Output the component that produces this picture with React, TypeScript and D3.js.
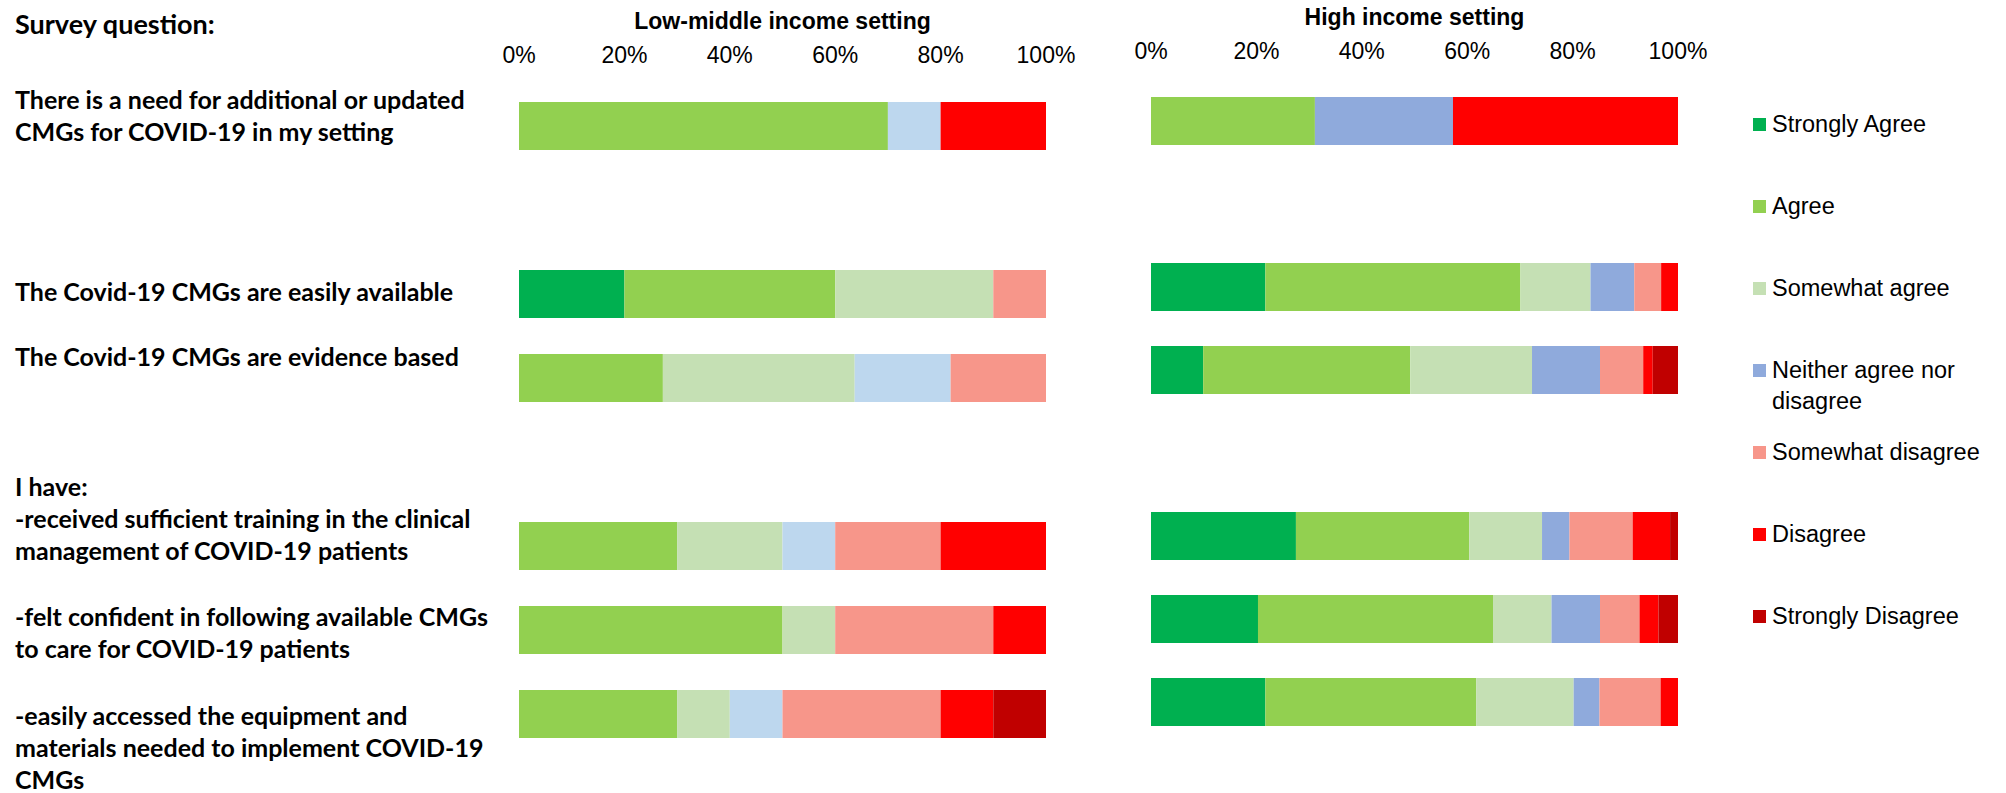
import React from 'react';
import * as d3 from 'd3';

// Likert categories, in stacking order
const categories = [
  'Strongly Agree',
  'Agree',
  'Somewhat agree',
  'Neither agree nor disagree',
  'Somewhat disagree',
  'Disagree',
  'Strongly Disagree',
];

// y slots (gaps are empty rows in the original sheet)
const slots = ['need', 'gap1', 'available', 'evidence', 'gap2', 'training', 'confident', 'equipment'];
const questions = ['need', 'available', 'evidence', 'training', 'confident', 'equipment'];

const questionLabels: Record<string, string[]> = {
  need: ['There is a need for additional or updated', 'CMGs for COVID-19 in my setting'],
  available: ['The Covid-19 CMGs are easily available'],
  evidence: ['The Covid-19 CMGs are evidence based'],
  training: ['I have:', '-received sufficient training in the clinical', 'management of COVID-19 patients'],
  confident: ['-felt confident in following available CMGs', 'to care for COVID-19 patients'],
  equipment: ['-easily accessed the equipment and', 'materials needed to implement COVID-19', 'CMGs'],
};
// first baseline relative to bar top
const labelOffsets: Record<string, number> = {
  need: 7, available: 31, evidence: 12, training: -26, confident: 20, equipment: 35,
};

// percentages per question, same order as categories
const lmicNeed = [0, 70, 0, 10, 0, 20, 0];
const lmicAvailable = [20, 40, 30, 0, 10, 0, 0];
const lmicEvidence = [0, 27.3, 36.4, 18.2, 18.1, 0, 0];
const lmicTraining = [0, 30, 20, 10, 20, 20, 0];
const lmicConfident = [0, 50, 10, 0, 30, 10, 0];
const lmicEquipment = [0, 30, 10, 10, 30, 10, 10];

const hicNeed = [0, 31.1, 0, 26.2, 0, 42.7, 0];
const hicAvailable = [21.7, 48.4, 13.3, 8.3, 5.1, 3.2, 0];
const hicEvidence = [9.9, 39.3, 23.1, 12.9, 8.2, 1.8, 4.8];
const hicTraining = [27.5, 32.9, 13.8, 5.2, 12.0, 7.1, 1.5];
const hicConfident = [20.3, 44.6, 11.1, 9.2, 7.5, 3.6, 3.7];
const hicEquipment = [21.7, 40.0, 18.5, 4.9, 11.6, 3.3, 0];

const ticks = [0, 20, 40, 60, 80, 100];

const colors = ['#00B050', '#92D050', '#C5E0B4', '#8FAADC', '#F7968A', '#FF0000', '#C00000'];
const lmicColors = ['#00B050', '#92D050', '#C5E0B4', '#BDD7EE', '#F7968A', '#FF0000', '#C00000'];

const W = 2006;
const H = 793;
const labelFont = 'Lato, "Liberation Sans", sans-serif';
const axisFont = '"Liberation Sans", Arial, sans-serif';

type Row = { q: string; [k: string]: number | string };

function buildRows(series: number[][]): Row[] {
  return questions.map((q, i) => {
    const r: Row = { q };
    categories.forEach((c, j) => (r[c] = series[i][j]));
    return r;
  });
}

const lmicRows = buildRows([lmicNeed, lmicAvailable, lmicEvidence, lmicTraining, lmicConfident, lmicEquipment]);
const hicRows = buildRows([hicNeed, hicAvailable, hicEvidence, hicTraining, hicConfident, hicEquipment]);

interface PanelProps {
  title: string;
  rows: Row[];
  palette: string[];
  x0: number;
  x1: number;
  top: number;
  step: number;
  titleY: number;
  tickY: number;
}

const Panel: React.FC<PanelProps> = ({ title, rows, palette, x0, x1, top, step, titleY, tickY }) => {
  const barH = 48;
  const pad = (step - barH) / step;
  const x = d3.scaleLinear().domain([0, 100]).range([x0, x1]);
  const y = d3
    .scaleBand<string>()
    .domain(slots)
    .range([top - (step - barH) / 2, top - (step - barH) / 2 + slots.length * step])
    .paddingInner(pad)
    .paddingOuter(pad / 2);
  const stacked = d3.stack<Row>().keys(categories).value((d, k) => d[k] as number)(rows);

  return (
    <g>
      <text x={(x0 + x1) / 2} y={titleY} textAnchor="middle" fontFamily={axisFont} fontWeight="bold" fontSize={23}>
        {title}
      </text>
      {ticks.map(t => (
        <text key={t} x={x(t)} y={tickY} textAnchor="middle" fontFamily={axisFont} fontSize={23}>
          {t}%
        </text>
      ))}
      {stacked.map((layer, li) => (
        <g key={layer.key} fill={palette[li]}>
          {layer.map(d =>
            d[1] - d[0] > 0 ? (
              <rect
                key={d.data.q}
                x={x(d[0])}
                y={y(d.data.q)}
                width={x(d[1]) - x(d[0])}
                height={y.bandwidth()}
              />
            ) : null
          )}
        </g>
      ))}
    </g>
  );
};

export default function App() {
  const yLab = d3
    .scaleBand<string>()
    .domain(slots)
    .range([102 - 18, 102 - 18 + slots.length * 84])
    .paddingInner(36 / 84)
    .paddingOuter(18 / 84);

  const legendY = d3.scalePoint<string>().domain(categories).range([132, 624]);

  return (
    <div style={{ position: 'absolute', left: 0, top: 0, background: '#fff' }}>
      <svg width={W} height={H} style={{ display: 'block' }}>
        <rect width={W} height={H} fill="#fff" />
        <text x={15} y={34} fontFamily={labelFont} fontWeight="bold" fontSize={27}>
          Survey question:
        </text>
        {questions.map(q => (
          <text key={q} fontFamily={labelFont} fontWeight="bold" fontSize={25}>
            {questionLabels[q].map((line, i) => (
              <tspan key={i} x={15} y={(yLab(q) as number) + labelOffsets[q] + i * 32}>
                {line}
              </tspan>
            ))}
          </text>
        ))}

        <Panel
          title="Low-middle income setting"
          rows={lmicRows}
          palette={lmicColors}
          x0={519}
          x1={1046}
          top={102}
          step={84}
          titleY={29}
          tickY={63}
        />
        <Panel
          title="High income setting"
          rows={hicRows}
          palette={colors}
          x0={1151}
          x1={1678}
          top={97}
          step={83}
          titleY={25}
          tickY={59}
        />

        {categories.map((c, i) => {
          const by = legendY(c) as number;
          const lines = c === 'Neither agree nor disagree' ? ['Neither agree nor', 'disagree'] : [c];
          return (
            <g key={c}>
              <rect x={1753} y={by - 14} width={13} height={13} fill={colors[i]} />
              <text fontFamily={axisFont} fontSize={23.5}>
                {lines.map((l, k) => (
                  <tspan key={k} x={1772} y={by + k * 31}>
                    {l}
                  </tspan>
                ))}
              </text>
            </g>
          );
        })}
      </svg>
    </div>
  );
}
